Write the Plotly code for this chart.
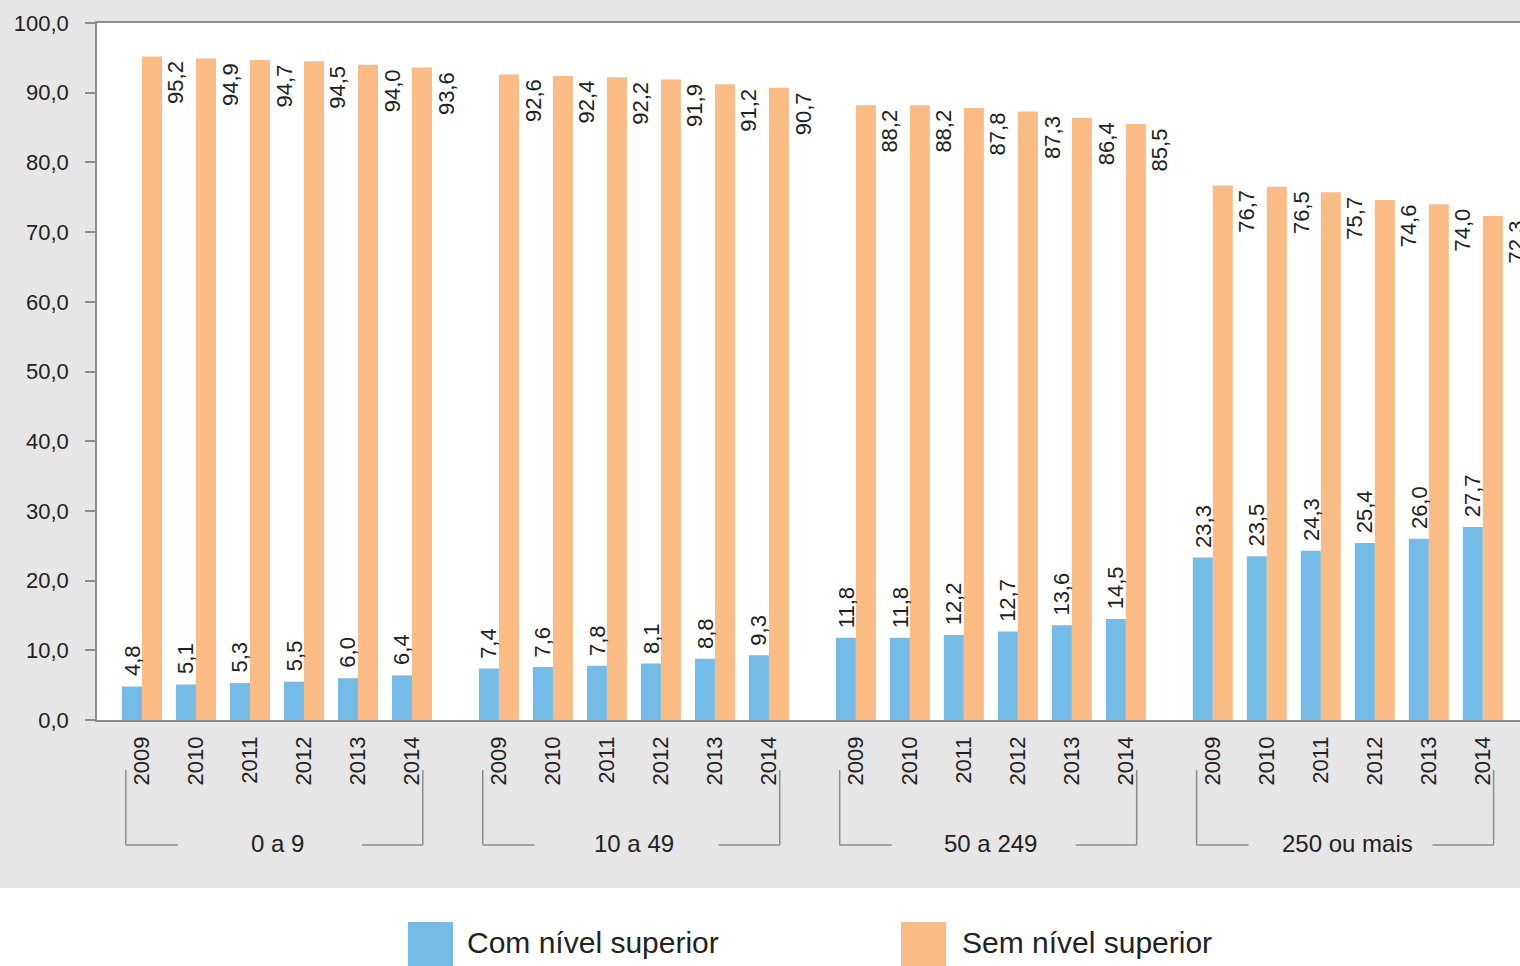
import plotly.graph_objects as go

# ---------------- data ----------------
groups = ["0 a 9", "10 a 49", "50 a 249", "250 ou mais"]
years = ["2009", "2010", "2011", "2012", "2013", "2014"]
series_names = ["Com nível superior", "Sem nível superior"]

com_nivel = [
    [4.8, 5.1, 5.3, 5.5, 6.0, 6.4],
    [7.4, 7.6, 7.8, 8.1, 8.8, 9.3],
    [11.8, 11.8, 12.2, 12.7, 13.6, 14.5],
    [23.3, 23.5, 24.3, 25.4, 26.0, 27.7],
]
sem_nivel = [
    [95.2, 94.9, 94.7, 94.5, 94.0, 93.6],
    [92.6, 92.4, 92.2, 91.9, 91.2, 90.7],
    [88.2, 88.2, 87.8, 87.3, 86.4, 85.5],
    [76.7, 76.5, 75.7, 74.6, 74.0, 72.3],
]
y_ticks = [0, 10, 20, 30, 40, 50, 60, 70, 80, 90, 100]

# ---------------- style ----------------
BLUE = "#74bce7"
ORANGE = "#fabb84"
GREY_BG = "#e6e6e6"
AXIS = "#8c8c8c"
TXT = "#222222"
FONT = "Liberation Sans, Arial, sans-serif"

W, H = 1520, 966
ML, MR, MT, MB = 97, 0, 23, 246
PW = W - ML - MR
PH = H - MT - MB
GROUP_STEP = 6.61
BARGAP = 0.26
UNIT_PX = 54.0  # pixels per x unit (for pixel-sized decorations)


def yp(px):
    """pixel row -> paper y"""
    return (H - MB - px) / PH


def xp(px):
    """pixel column -> paper x"""
    return (px - ML) / PW


# positions (category slots) derived from group/year indices
xs, xt, blue_vals, orange_vals = [], [], [], []
for g in range(len(groups)):
    for i, yr in enumerate(years):
        xs.append(g * GROUP_STEP + i)
        xt.append(yr)
        blue_vals.append(com_nivel[g][i])
        orange_vals.append(sem_nivel[g][i])

fig = go.Figure()
fig.add_bar(x=xs, y=blue_vals, name=series_names[0], marker_color=BLUE,
            marker_line_width=0, showlegend=False)
fig.add_bar(x=xs, y=orange_vals, name=series_names[1], marker_color=ORANGE,
            marker_line_width=0, showlegend=False)

half = (1 - BARGAP) / 4.0
fmt = lambda v: f"{v:.1f}".replace(".", ",")
annotations = []
for xv, v in zip(xs, blue_vals):
    annotations.append(dict(x=xv - half, y=v, xref="x", yref="y", text=fmt(v),
                            textangle=-90, showarrow=False, xanchor="center",
                            yanchor="bottom", yshift=8,
                            font=dict(family=FONT, size=22, color=TXT)))
for xv, v in zip(xs, orange_vals):
    annotations.append(dict(x=xv + half, y=v, xref="x", yref="y", text=fmt(v),
                            textangle=-90, showarrow=False, xanchor="center",
                            xshift=24, yanchor="top", yshift=-2,
                            font=dict(family=FONT, size=22, color=TXT)))

shapes = []
# white strip at the bottom (legend area)
shapes.append(dict(type="rect", xref="paper", yref="paper", x0=xp(-5), x1=xp(W + 5),
                   y0=yp(H + 20), y1=yp(888), fillcolor="white", line_width=0,
                   layer="below"))

# group brackets and labels
for g, name in enumerate(groups):
    xl = g * GROUP_STEP - 0.3
    xr = g * GROUP_STEP + 5 + 0.2
    ytop, ybot = yp(770), yp(845)
    line = dict(color=AXIS, width=1.5)
    shapes.append(dict(type="line", xref="x", yref="paper", x0=xl, x1=xl, y0=ytop, y1=ybot, line=line))
    shapes.append(dict(type="line", xref="x", yref="paper", x0=xl, x1=xl + 52 / UNIT_PX, y0=ybot, y1=ybot, line=line))
    shapes.append(dict(type="line", xref="x", yref="paper", x0=xr, x1=xr, y0=ytop, y1=ybot, line=line))
    shapes.append(dict(type="line", xref="x", yref="paper", x0=xr - 61 / UNIT_PX, x1=xr, y0=ybot, y1=ybot, line=line))
    annotations.append(dict(x=g * GROUP_STEP + 2.5, y=yp(843), xref="x", yref="paper",
                            text=name, showarrow=False, xanchor="center", yanchor="middle",
                            font=dict(family=FONT, size=24, color=TXT)))

# legend (drawn manually to match large swatches)
leg = [(series_names[0], BLUE, 408, 465), (series_names[1], ORANGE, 901, 960)]
for name, col, sx, tx in leg:
    shapes.append(dict(type="rect", xref="paper", yref="paper", x0=xp(sx), x1=xp(sx + 45),
                       y0=yp(H + 10), y1=yp(922), fillcolor=col, line_width=0))
    annotations.append(dict(x=xp(tx), y=yp(943), xref="paper", yref="paper", text=name,
                            showarrow=False, xanchor="left", yanchor="middle",
                            font=dict(family=FONT, size=30, color=TXT)))

fig.update_layout(
    width=W, height=H, autosize=False,
    margin=dict(l=ML, r=MR, t=MT, b=MB, pad=0),
    paper_bgcolor=GREY_BG, plot_bgcolor="white",
    barmode="group", bargap=BARGAP, bargroupgap=0,
    separators=",.",
    font=dict(family=FONT, color=TXT),
    annotations=annotations, shapes=shapes,
    showlegend=False,
)
fig.update_xaxes(
    range=[-45 / UNIT_PX, (W - ML - 45) / UNIT_PX],
    tickmode="array", tickvals=xs, ticktext=xt, tickangle=-90,
    ticks="", showgrid=False, zeroline=False,
    showline=True, mirror=True, linecolor=AXIS, linewidth=1.5,
    tickfont=dict(family=FONT, size=22, color=TXT), ticklabelstandoff=6,
)
fig.update_yaxes(
    range=[0, 100], tickmode="array", tickvals=y_ticks, tickformat=".1f",
    ticks="outside", ticklen=10, tickcolor=AXIS, tickwidth=1.5,
    showgrid=False, zeroline=False, showline=True, linecolor=AXIS, linewidth=1.5,
    tickfont=dict(family=FONT, size=22, color=TXT), ticklabelstandoff=12,
)

fig.write_html("out.html", config={"displayModeBar": False},
               post_script="document.body.style.margin='0';")
